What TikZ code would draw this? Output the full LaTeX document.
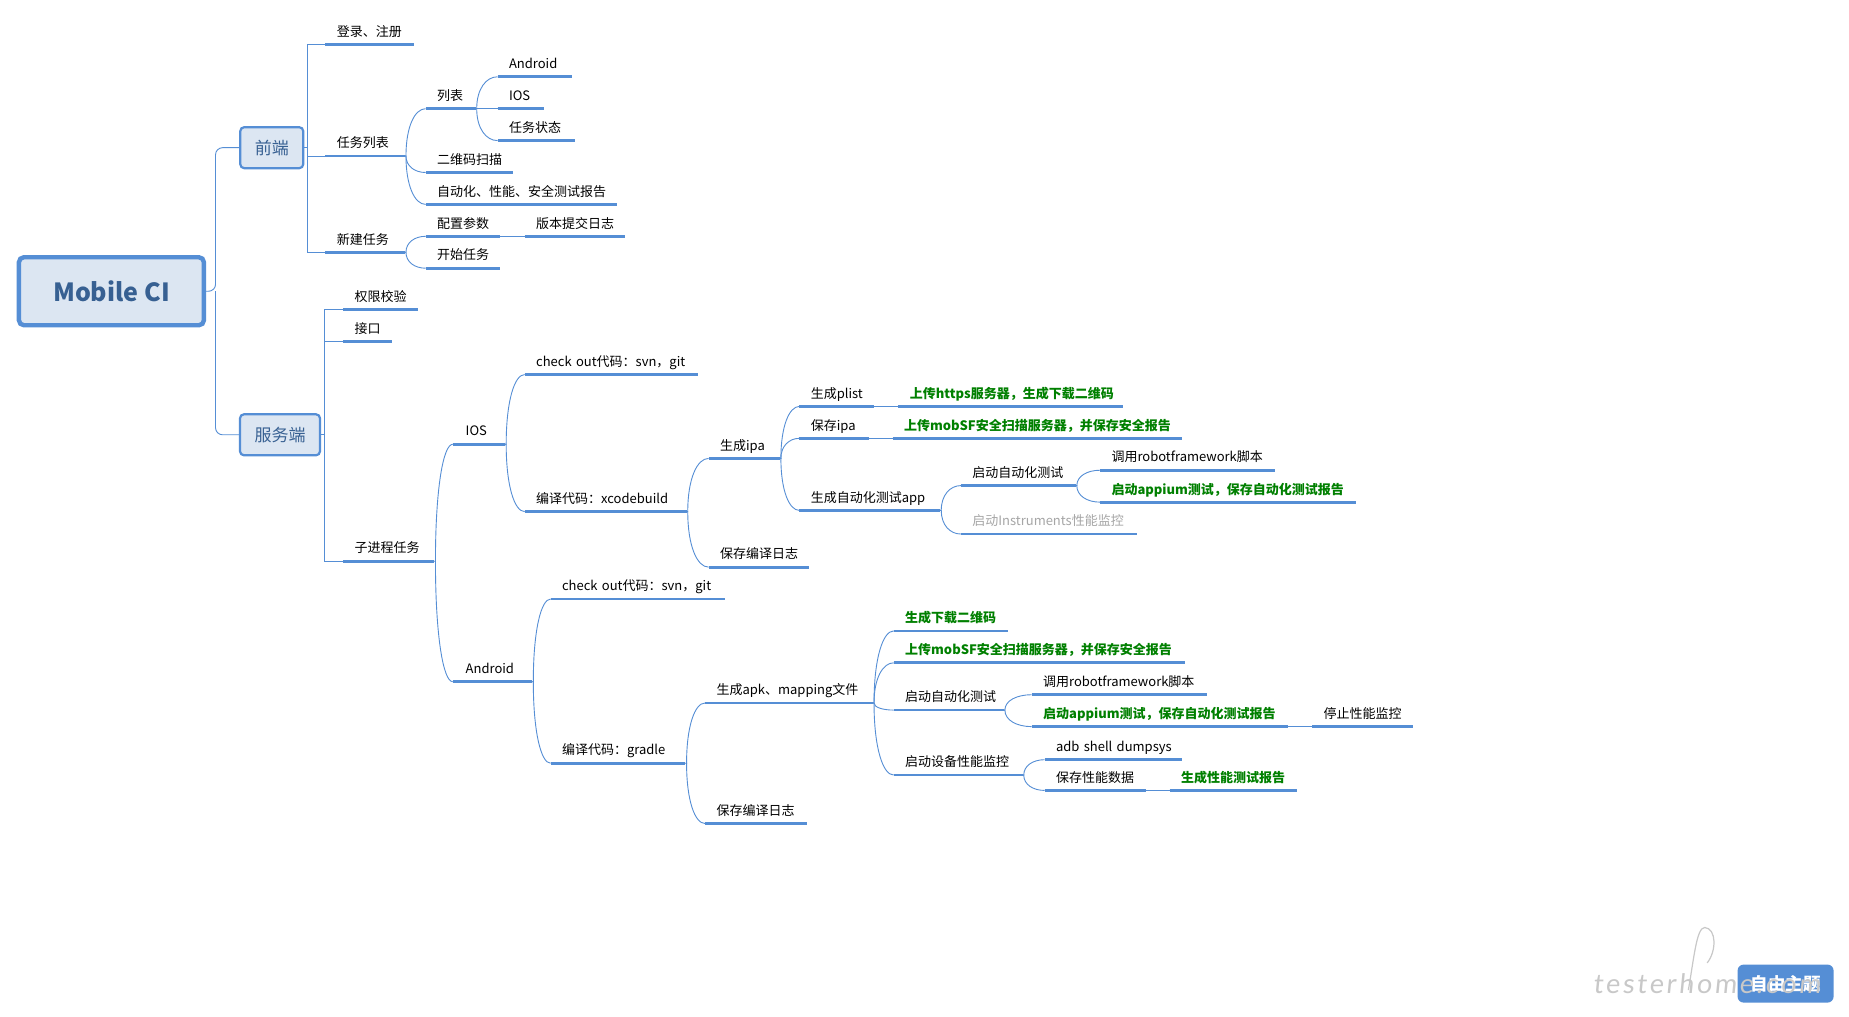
\documentclass[tikz,border=0pt]{standalone}
\usepackage{fontspec}
\setmainfont{Noto Sans CJK SC}
\newfontfamily\wmfont{Lato}
\usetikzlibrary{calc}
\definecolor{mline}{HTML}{558ED5}
\definecolor{mfill}{HTML}{DCE6F2}
\definecolor{mtext}{HTML}{376092}
\definecolor{mgreen}{HTML}{008000}
\definecolor{mgrey}{HTML}{A6A6A6}
\definecolor{wmgrey}{HTML}{C8C8C8}
\def\u{1.179}
\tikzset{
  topic/.style={anchor=south west,inner xsep=0pt,inner ysep=0pt,minimum height=24pt,align=left,font=\fontsize{13}{15}\selectfont,text=black},
  ok/.style={font=\fontsize{13}{15}\selectfont\bfseries,text=mgreen},
  off/.style={text=mgrey},
  ul/.style={draw=mline,line width=2.8pt},
  link/.style={draw=mline,line width=0.9pt},
  mainbox/.style={draw=mline,fill=mfill,line width=2.2pt,rounded corners=4pt,text=mtext,font=\fontsize{17}{19}\selectfont,inner sep=0pt},
}
\newcommand{\topic}[6][]{%
  \pgfmathsetmacro\tw{(#4-#3)*\u}%
  \node[topic,#1,text width=\tw pt] (#2) at (#3,#5) {\hspace*{11.3pt}\mbox{\rule[-3pt]{0pt}{13pt}#6}};
  \draw[ul] (#2.south west) -- (#2.south east);
}
\newcommand{\curvelink}[2]{%
  \draw[link] (#1.south east) -- ++(1,0) coordinate (s)
    .. controls ($(s)!0.62!(s |- #2.south west)$) and ($(s |- #2.south west)!0.45!(#2.south west)$) .. (#2.south west);
}
\newcommand{\straightlink}[2]{\draw[link] (#1.south east) -- (#2.south west);}
\begin{document}
\begin{tikzpicture}[x=1.179pt,y=-1.1815pt]
\useasboundingbox (0,0) rectangle (1568.3,860);
\fill[white] (0,0) rectangle (1568.3,860);

% main boxes
\node[draw=mline,fill=mfill,line width=4.4pt,rounded corners=5pt,text=mtext,inner sep=0pt,
      minimum width=185pt,minimum height=68pt,font=\fontsize{25}{28}\selectfont\bfseries] (root) at (94.5,246.5) {\raisebox{1pt}{Mobile CI}};
\node[mainbox,minimum width=63pt,minimum height=41pt] (front) at (230.5,125) {前端};
\node[mainbox,minimum width=80pt,minimum height=41pt] (back) at (237.5,368) {服务端};
\draw[link,rounded corners=7pt] (root.east) -- ++(8,0) coordinate (rt) |- (front.west);
\draw[link,rounded corners=7pt] (rt) |- (back.west);

% front end
\topic{login}{276}{351}{37.5}{登录、注册}
\topic{tasks}{276}{343}{132}{任务列表}
\topic{newtask}{276}{343}{213.5}{新建任务}
\coordinate (ft) at (261,125);
\draw[link] (front.east) -- (ft);
\draw[link] (ft) |- (login.south west);
\draw[link] (ft) |- (tasks.south west);
\draw[link] (ft) |- (newtask.south west);

\topic{list}{361}{403}{92}{列表}
\topic{qr}{361}{435}{146}{二维码扫描}
\topic{autorep}{361}{523}{173}{自动化、性能、安全测试报告}
\topic{andr}{422}{485}{65}{Android}
\topic{ios}{422}{461}{92}{IOS}
\topic{tstate}{422}{487}{119}{任务状态}
\topic{config}{361}{424}{200}{配置参数}
\topic{vlog}{445}{530}{200}{版本提交日志}
\topic{start}{361}{424}{227}{开始任务}
\curvelink{tasks}{list}
\curvelink{tasks}{qr}
\curvelink{tasks}{autorep}
\curvelink{list}{andr}
\straightlink{list}{ios}
\curvelink{list}{tstate}
\curvelink{newtask}{config}
\curvelink{newtask}{start}
\straightlink{config}{vlog}

% back end
\topic{perm}{291}{354}{262}{权限校验}
\topic{api}{291}{332}{289}{接口}
\topic{sub}{291}{368}{475}{子进程任务}
\coordinate (bt) at (275,368);
\draw[link] (back.east) -- (bt);
\draw[link] (bt) |- (perm.south west);
\draw[link] (bt) |- (api.south west);
\draw[link] (bt) |- (sub.south west);

\topic{bios}{384}{428}{376}{\hspace*{1.5pt}IOS}
\topic{band}{384}{451}{577}{\hspace*{1.5pt}Android}
\curvelink{sub}{bios}
\curvelink{sub}{band}

\topic{icheck}{445}{592}{317}{check out代码：svn，git}
\topic{ibuild}{445}{582}{433}{编译代码：xcodebuild}
\curvelink{bios}{icheck}
\curvelink{bios}{ibuild}
\topic{ipa}{601}{661}{388}{生成ipa}
\topic{ilog}{601}{686}{480}{保存编译日志}
\curvelink{ibuild}{ipa}
\curvelink{ibuild}{ilog}
\topic{plist}{678}{741}{344}{生成plist}
\topic[ok]{https}{762}{952}{344}{上传https服务器，生成下载二维码}
\topic{sipa}{678}{737}{371}{保存ipa}
\topic[ok]{mobsf}{757}{1002}{371}{上传mobSF安全扫描服务器，并保存安全报告}
\topic{genapp}{678}{797}{432}{生成自动化测试app}
\curvelink{ipa}{plist}
\curvelink{ipa}{sipa}
\curvelink{ipa}{genapp}
\straightlink{plist}{https}
\straightlink{sipa}{mobsf}
\topic{iauto}{815}{912}{411}{启动自动化测试}
\topic[off]{instr}{815}{964}{452}{启动Instruments性能监控}
\curvelink{genapp}{iauto}
\curvelink{genapp}{instr}
\topic{irobot}{933}{1081}{398}{调用robotframework脚本}
\topic[ok]{iappium}{933}{1150}{425}{启动appium测试，保存自动化测试报告}
\curvelink{iauto}{irobot}
\curvelink{iauto}{iappium}

\topic{acheck}{467}{615}{507}{check out代码：svn，git}
\topic{abuild}{467}{581}{646}{编译代码：gradle}
\curvelink{band}{acheck}
\curvelink{band}{abuild}
\topic{apk}{598}{740}{595}{生成apk、mapping文件}
\topic{alog}{598}{684}{697}{保存编译日志}
\curvelink{abuild}{apk}
\curvelink{abuild}{alog}
\topic[ok]{aqr}{758}{855}{534}{生成下载二维码}
\topic[ok]{amobsf}{758}{1005}{561}{上传mobSF安全扫描服务器，并保存安全报告}
\topic{aauto}{758}{851}{601}{启动自动化测试}
\topic{aperf}{758}{867}{656}{启动设备性能监控}
\curvelink{apk}{aqr}
\curvelink{apk}{amobsf}
\curvelink{apk}{aauto}
\curvelink{apk}{aperf}
\topic{arobot}{875}{1023}{588}{调用robotframework脚本}
\topic[ok]{aappium}{875}{1092}{615}{启动appium测试，保存自动化测试报告}
\topic{astop}{1113}{1198}{615}{停止性能监控}
\curvelink{aauto}{arobot}
\curvelink{aauto}{aappium}
\straightlink{aappium}{astop}
\topic{adb}{886}{1002}{643}{adb shell dumpsys}
\topic{adata}{886}{972}{669}{保存性能数据}
\topic[ok]{areport}{992}{1100}{669}{生成性能测试报告}
\curvelink{aperf}{adb}
\curvelink{aperf}{adata}
\straightlink{adata}{areport}

% badge and watermark
\node[fill=mline,rounded corners=6pt,minimum width=96pt,minimum height=38pt,inner sep=0pt,text=white,
      font=\fontsize{17.5}{19}\selectfont\bfseries] (badge) at (1514.5,832.5) {自由主题};
\node[anchor=base west,inner sep=0pt,text=wmgrey,font=\wmfont\fontsize{27}{30}\selectfont] (wm) at (1351,841)
  {\addfontfeatures{LetterSpace=10,FakeSlant=0.1}testerhome.com};
\draw[wmgrey,line width=1.2pt] (1432,838) .. controls (1437,810) and (1439,785) .. (1446,785)
  .. controls (1456,786) and (1456,805) .. (1448,815);
\end{tikzpicture}
\end{document}
